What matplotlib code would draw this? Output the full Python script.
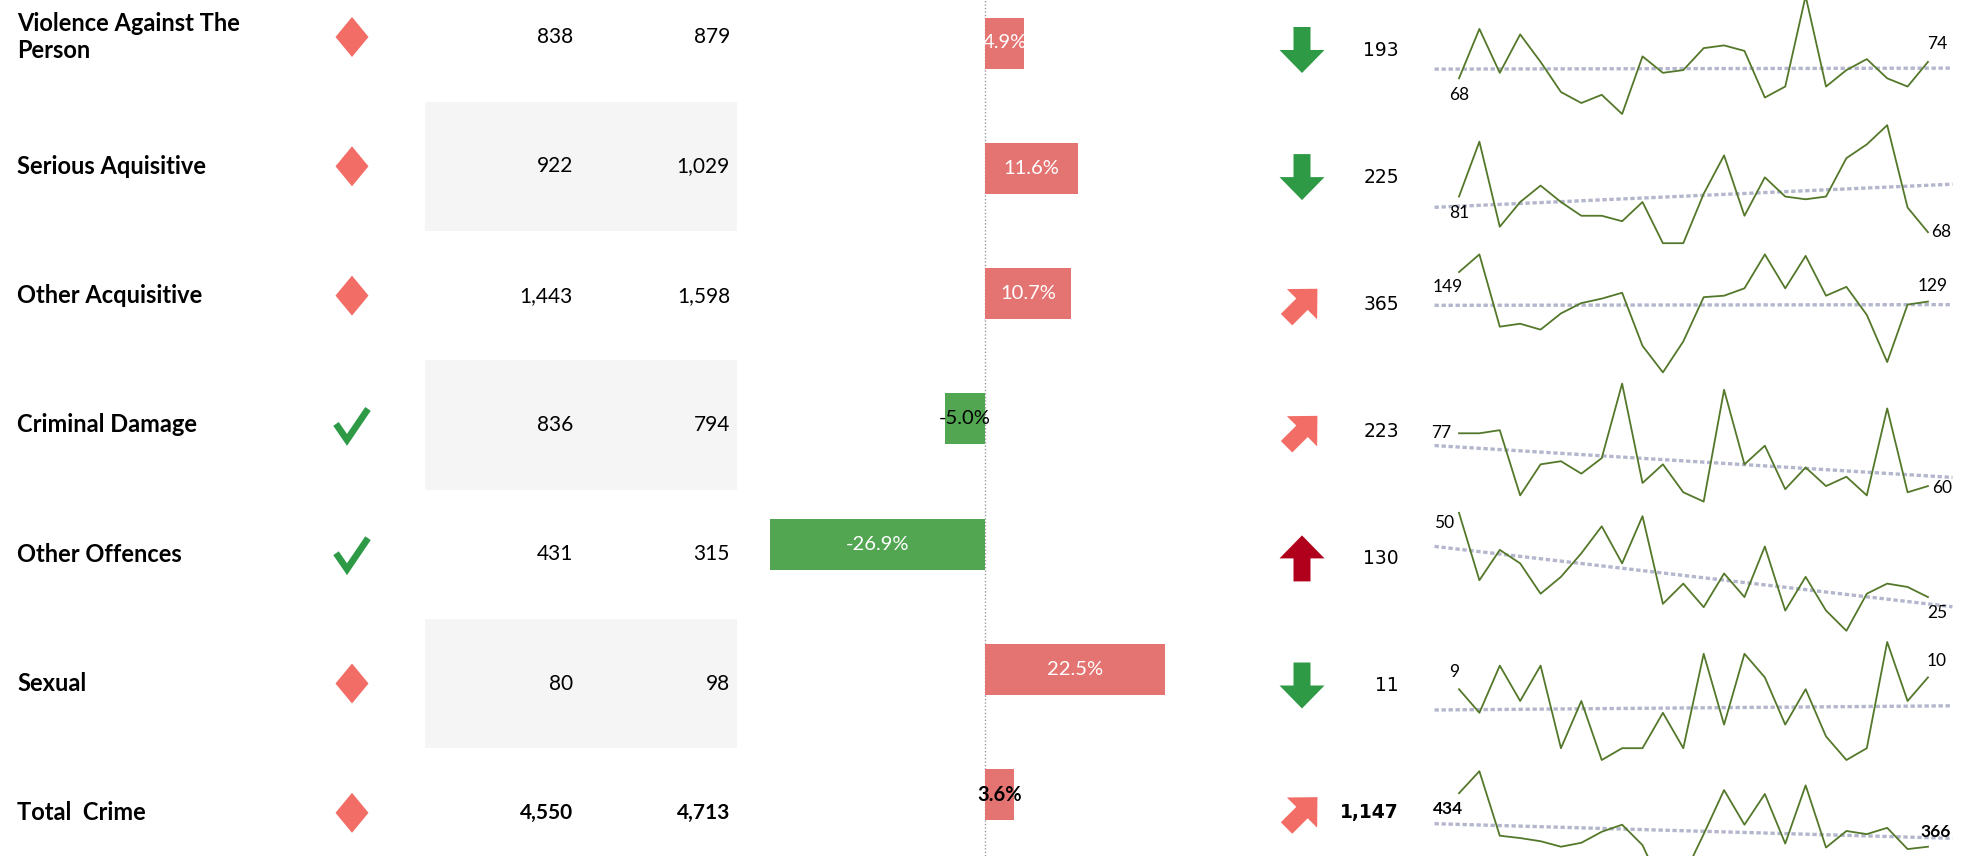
import numpy as np
import matplotlib
matplotlib.use("Agg")
import matplotlib.pyplot as plt
from matplotlib.patches import Polygon, Rectangle

W, H, DPI = 1966, 856, 100

# ---- data ----
categories = ["Violence Against The\nPerson", "Serious Aquisitive", "Other Acquisitive",
              "Criminal Damage", "Other Offences", "Sexual", "Total  Crime"]
prev_year = [838, 922, 1443, 836, 431, 80, 4550]
this_year = [879, 1029, 1598, 794, 315, 98, 4713]
pct_change = [4.9, 11.6, 10.7, -5.0, -26.9, 22.5, 3.6]
trend_dir = ["down", "down", "diag", "diag", "up", "down", "diag"]
trend_value = [193, 225, 365, 223, 130, 11, 1147]

violence = [68, 86, 70, 84, 74, 63, 59, 62, 55, 76, 70, 71,
            79, 80, 78, 61, 65, 98, 65, 71, 75, 68, 65, 74]
serious = [81, 101, 70, 79, 85, 79, 74, 74, 72, 79, 64, 64,
           82, 96, 74, 88, 81, 80, 81, 95, 100, 107, 77, 68]
other_acq = [149, 161, 112, 114, 110, 121, 128, 131, 135, 99, 81, 102,
             132, 133, 138, 161, 138, 160, 133, 139, 120, 88, 127, 129]
damage = [77, 77, 78, 57, 67, 68, 64, 69, 93, 61, 67, 58,
          55, 91, 67, 73, 59, 66, 60, 63, 57, 85, 58, 60]
other_off = [50, 30, 39, 35, 26, 31, 38, 46, 35, 49, 23, 29,
             22, 32, 25, 40, 21, 31, 21, 15, 26, 29, 28, 25]
sexual = [9, 7, 11, 8, 11, 4, 8, 3, 4, 4, 7, 4,
          12, 6, 12, 10, 6, 9, 5, 3, 4, 13, 8, 10]
total = [434, 462, 380, 377, 373, 366, 371, 385, 394, 368, 312, 328,
         382, 438, 394, 433, 370, 444, 365, 386, 382, 390, 363, 366]
spark_series = [violence, serious, other_acq, damage, other_off, sexual, total]

# ---- styling ----
RED_BAR, GREEN_BAR = "#e47472", "#52a652"
SALMON, GREEN, DARKRED = "#f26d66", "#2e9a46", "#b0001c"
LINE_GREEN, TREND = "#54782a", "#b3b6cc"
BAND = "#f5f5f5"
FONT = "Lato"
label_colors = ["white", "white", "white", "black", "white", "white", "black"]
# (dx, dy) in pixels for first / last sparkline labels, y pointing down
first_off = [(0, 17), (0, 16), (-11, 15), (-18, 0), (-15, 10), (-5, -17), (-11, 16)]
last_off = [(9, -18), (13, 0), (5, -16), (14, 2), (9, 16), (9, -16), (8, -15)]

n = len(categories)
row_y = [37 + 129.3 * i for i in range(n)]
arrow_y = [50 + 127.1 * i for i in range(n)]
spark_top = [-4 + 129.2 * i for i in range(n)]


def px_axes(fig, left, top, width, height):
    return fig.add_axes([left / W, 1 - (top + height) / H, width / W, height / H])


fig = plt.figure(figsize=(W / DPI, H / DPI), dpi=DPI, facecolor="white")

# base layer in pixel coordinates: text columns, icons, shaded bands
ax = fig.add_axes([0, 0, 1, 1])
ax.set_xlim(0, W)
ax.set_ylim(H, 0)
ax.axis("off")

for i in range(n):
    y = row_y[i]
    bold = "bold" if i == n - 1 else "normal"
    if i % 2 == 1:
        ax.add_patch(Rectangle((425, y - 64.6), 312, 129.2, color=BAND, lw=0, zorder=0))
    ax.text(17, y, categories[i], ha="left", va="center", fontsize=17,
            fontweight="bold", family=FONT, linespacing=1.25)
    ax.text(573, y, f"{prev_year[i]:,}", ha="right", va="center", fontsize=15,
            family=FONT, fontweight=bold)
    ax.text(730, y, f"{this_year[i]:,}", ha="right", va="center", fontsize=15,
            family=FONT, fontweight=bold)

    # status icon: diamond for a rise, tick for a fall
    cx, cy = 352, y
    if pct_change[i] > 0:
        ax.add_patch(Polygon([(cx, cy - 20), (cx + 16.5, cy), (cx, cy + 20), (cx - 16.5, cy)],
                             closed=True, color=SALMON, lw=0))
    else:
        ax.plot([cx - 16, cx - 5, cx + 16], [cy - 1, cy + 15, cy - 16], color=GREEN,
                lw=4.8, solid_joinstyle="miter", solid_capstyle="butt")

    # trend arrow
    ay = arrow_y[i]
    shape = np.array([(-8.5, -23), (8.5, -23), (8.5, 0), (22.5, 0), (0, 23),
                      (-22.5, 0), (-8.5, 0)])
    if trend_dir[i] == "down":
        pts, col = shape, GREEN
    elif trend_dir[i] == "up":
        pts, col = shape * [1, -1], DARKRED
    else:
        t = np.deg2rad(-135)
        rot = np.array([[np.cos(t), -np.sin(t)], [np.sin(t), np.cos(t)]])
        pts, col = (shape @ rot.T) * 0.95, SALMON
    ax.add_patch(Polygon(pts + [1302, ay], closed=True, color=col, lw=0))
    ax.text(1399, ay, f"{trend_value[i]:,}", ha="right", va="center", fontsize=13.5,
            family="DejaVu Sans", fontweight=bold)

# diverging bar chart of % change
bx = px_axes(fig, 745, 0, 480, H)
bx.set_xlim(-30, 30)
bx.set_ylim((H - 43) / 125.3, -43 / 125.3)
bx.axis("off")
bx.patch.set_alpha(0)
bx.axvline(0, color="#9a9a9a", ls=(0, (1, 1.5)), lw=1, zorder=0)
bar_cols = [RED_BAR if v > 0 else GREEN_BAR for v in pct_change]
bx.barh(range(n), pct_change, height=51 / 125.3, color=bar_cols, zorder=2)
for i, v in enumerate(pct_change):
    bx.text(v / 2, i, f"{v:.1f}%", ha="center", va="center", fontsize=14.5,
            family=FONT, color=label_colors[i], zorder=3,
            fontweight="bold" if i == n - 1 else "normal")

# sparklines with linear trend
for i, series in enumerate(spark_series):
    sx = px_axes(fig, 1420, spark_top[i], W - 1420, 118)
    x = np.arange(len(series))
    sx.set_xlim((1420 - 1459) / 20.39, (W - 1459) / 20.39)
    sx.set_ylim(min(series), max(series))
    sx.axis("off")
    sx.patch.set_alpha(0)
    k, b = np.polyfit(x, series, 1)
    tx = np.array([-1.2, len(series) + 0.2])
    sx.plot(tx, k * tx + b, color=TREND, lw=2.4, ls=(0, (1.3, 0.8)),
            dash_capstyle="butt", clip_on=False)
    sx.plot(x, series, color=LINE_GREEN, lw=1.3, clip_on=False)
    weight = "bold" if i == n - 1 else "normal"
    for xi, off in ((0, first_off[i]), (len(series) - 1, last_off[i])):
        sx.annotate(f"{series[xi]}", (xi, series[xi]), xytext=(off[0], -off[1]),
                    textcoords="offset pixels", ha="center", va="center",
                    fontsize=12.5, family=FONT, fontweight=weight, annotation_clip=False)

fig.savefig("out.png", dpi=DPI, facecolor="white")
